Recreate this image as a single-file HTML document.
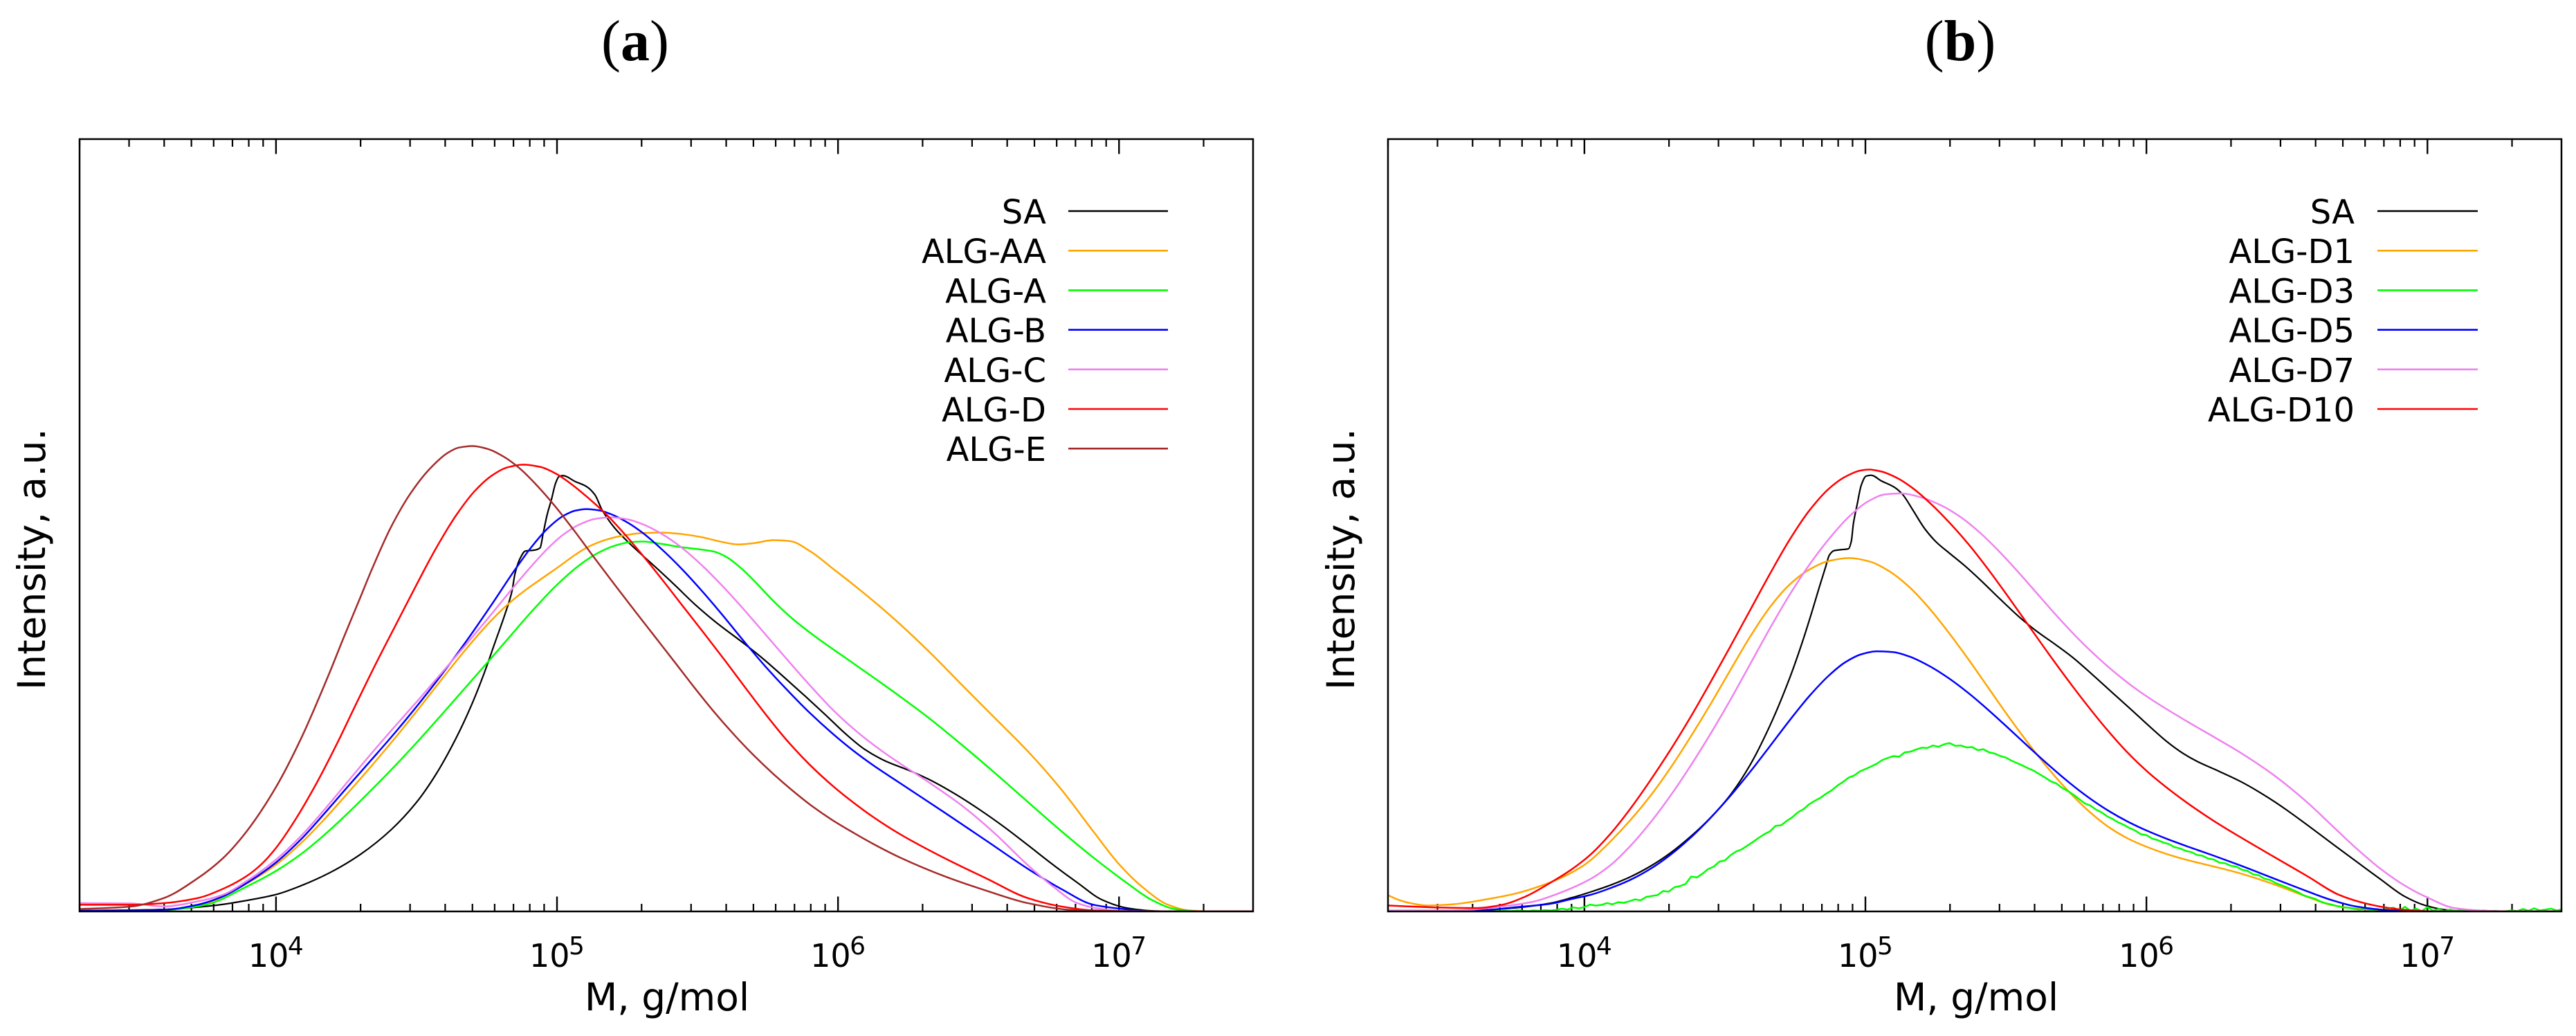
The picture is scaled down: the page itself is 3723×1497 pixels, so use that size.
<!DOCTYPE html>
<html lang="en">
<head>
<meta charset="utf-8">
<title>Molecular weight distributions</title>
<style>
  html,body{margin:0;padding:0;background:#fff;}
  svg{display:block;}
  text{font-family:"DejaVu Sans",sans-serif;fill:#000;}
  .panel-title{font-family:"Liberation Serif",serif;font-size:84px;}
</style>
</head>
<body>
<svg id="chart" xmlns="http://www.w3.org/2000/svg" width="3723" height="1497" viewBox="0 0 3723 1497">
  <rect x="0" y="0" width="3723" height="1497" fill="#fff"/>
  <text class="panel-title" x="918" y="87" text-anchor="middle">(<tspan font-weight="bold">a</tspan>)</text>
  <text class="panel-title" x="2833" y="87" text-anchor="middle">(<tspan font-weight="bold">b</tspan>)</text>
</svg>
<script>
// ---- Shared axis data ----
const decadeExponents = [4, 5, 6, 7];
const minorMultipliers = [2, 3, 4, 5, 6, 7, 8, 9];
const xDomainLog = [3.301, 7.477];
const xTitle = "M, g/mol";
const yTitle = "Intensity, a.u.";

// ---- Panel (a) series: log10(M) and intensity (a.u.) ----
const aNames = ["SA", "ALG-AA", "ALG-A", "ALG-B", "ALG-C", "ALG-D", "ALG-E"];
const aMaxIntensity = 2332;

const aSaLogM = [3.30,3.60,3.78,3.895,4.00,4.09,4.19,4.30,4.41,4.50,4.57,4.64,4.695,4.74,4.78,4.815,4.84,4.85,4.87,4.887,4.92,4.94,4.95,4.965,4.98,4.995,5.007,5.02,5.065,5.105,5.135,5.16,5.205,5.25,5.305,5.36,5.42,5.49,5.56,5.67,5.73,5.80,5.885,5.955,6.025,6.095,6.165,6.25,6.325,6.413,6.50,6.589,6.676,6.764,6.852,6.94,7.03,7.116,7.2,7.477];
const aSaValues = [2,6,18,33,51,73,113,163,238,318,408,513,618,708,818,898,968,1018,1068,1088,1091,1098,1138,1198,1243,1293,1313,1316,1298,1283,1258,1213,1158,1118,1073,1033,988,923,873,808,768,713,648,598,533,483,448,432,400,360,310,260,200,140,85,35,10,2,0,0];

const aAaLogM = [3.30,3.60,3.75,3.895,4.00,4.09,4.17,4.255,4.34,4.425,4.51,4.595,4.68,4.75,4.82,4.88,4.95,5.005,5.065,5.105,5.165,5.235,5.305,5.375,5.445,5.515,5.585,5.645,5.70,5.77,5.83,5.90,5.985,6.07,6.155,6.22,6.325,6.442,6.56,6.676,6.794,6.91,7.0,7.086,7.175,7.25,7.35,7.477];
const aAaValues = [2,5,25,75,133,203,273,358,438,523,613,708,798,868,928,968,1008,1038,1078,1103,1123,1138,1145,1146,1142,1130,1116,1108,1112,1121,1118,1088,1033,978,918,868,790,680,580,490,380,240,130,60,20,3,0,0];

const aALogM = [3.30,3.60,3.75,3.895,4.00,4.09,4.17,4.255,4.34,4.425,4.51,4.595,4.68,4.75,4.82,4.91,4.995,5.08,5.15,5.205,5.26,5.305,5.36,5.445,5.50,5.56,5.60,5.66,5.715,5.77,5.84,5.925,6.025,6.125,6.22,6.325,6.442,6.56,6.676,6.794,6.91,7.03,7.116,7.20,7.29,7.477];
const aAValues = [2,4,20,70,118,168,228,293,368,438,518,598,683,748,818,908,988,1053,1088,1108,1118,1120,1113,1096,1095,1091,1078,1038,988,933,878,823,768,708,648,590,500,420,330,240,160,80,35,7,0,0];

const aBLogM = [3.30,3.60,3.72,3.81,3.895,4.00,4.09,4.17,4.255,4.34,4.425,4.51,4.595,4.68,4.765,4.85,4.91,4.965,5.02,5.065,5.105,5.15,5.19,5.25,5.305,5.375,5.445,5.515,5.585,5.67,5.74,5.815,5.90,5.985,6.055,6.125,6.22,6.384,6.53,6.676,6.794,6.91,7.03,7.116,7.477];
const aBValues = [2,5,20,45,80,138,213,293,378,458,538,628,718,818,918,1038,1103,1163,1200,1214,1218,1214,1203,1178,1148,1093,1038,968,903,808,738,673,593,533,483,438,390,295,215,125,60,20,6,0,0];

const aCLogM = [3.30,3.485,3.60,3.72,3.81,3.895,4.00,4.09,4.17,4.255,4.34,4.425,4.51,4.595,4.68,4.765,4.85,4.91,4.965,5.02,5.08,5.135,5.19,5.25,5.305,5.375,5.445,5.515,5.585,5.655,5.73,5.815,5.90,5.985,6.07,6.155,6.22,6.325,6.442,6.56,6.676,6.764,6.852,6.94,7.03,7.477];
const aCValues = [25,24,15,30,50,85,148,223,303,393,478,563,638,728,808,893,988,1043,1098,1143,1173,1190,1194,1188,1173,1143,1103,1048,988,923,848,763,683,598,538,483,446,390,325,245,130,70,25,7,1,0];

const aDLogM = [3.30,3.485,3.60,3.72,3.81,3.895,3.95,4.00,4.07,4.145,4.215,4.285,4.355,4.43,4.50,4.57,4.64,4.71,4.77,4.825,4.88,4.94,4.995,5.05,5.105,5.18,5.235,5.305,5.375,5.445,5.53,5.60,5.67,5.745,5.815,5.90,5.985,6.055,6.125,6.22,6.384,6.53,6.676,6.794,6.91,7.057,7.477];
const aDValues = [20,20,25,40,60,100,140,183,273,383,498,628,753,868,988,1103,1203,1283,1323,1348,1355,1348,1328,1293,1253,1203,1143,1078,1003,923,833,758,673,593,513,438,373,328,283,228,155,100,40,15,3,0,0];

const aELogM = [3.30,3.485,3.60,3.72,3.81,3.895,4.00,4.09,4.19,4.24,4.30,4.34,4.41,4.48,4.55,4.61,4.65,4.70,4.75,4.81,4.87,4.92,4.99,5.06,5.13,5.205,5.275,5.35,5.42,5.49,5.56,5.63,5.70,5.77,5.84,5.91,5.98,6.055,6.125,6.22,6.384,6.53,6.676,6.823,6.94,7.477];
const aEValues = [7,15,40,90,150,230,358,513,708,838,938,1038,1178,1273,1348,1390,1406,1410,1403,1378,1343,1293,1233,1153,1068,988,908,828,753,673,598,533,468,413,363,313,273,238,203,158,100,60,25,5,1,0];

// ---- Panel (b) series: log10(M) and intensity (a.u.) ----
const bNames = ["SA", "ALG-D1", "ALG-D3", "ALG-D5", "ALG-D7", "ALG-D10"];
const bMaxIntensity = 2500;

const bSaLogM = [3.30,3.62,3.76,3.88,3.953,4.023,4.094,4.165,4.235,4.306,4.377,4.447,4.518,4.589,4.66,4.73,4.773,4.808,4.836,4.858,4.872,4.889,4.914,4.94,4.95,4.957,4.971,4.985,5.002,5.02,5.056,5.105,5.133,5.169,5.211,5.254,5.296,5.353,5.409,5.48,5.55,5.607,5.678,5.735,5.805,5.876,5.947,6.017,6.074,6.13,6.187,6.24,6.336,6.453,6.57,6.658,6.746,6.833,6.92,6.994,7.067,7.155,7.477];
const bSaValues = [1,4,12,27,44,62,84,109,144,184,239,299,364,460,590,745,860,965,1050,1114,1154,1168,1171,1174,1199,1254,1319,1379,1409,1412,1394,1372,1349,1299,1239,1194,1159,1124,1074,1009,949,904,864,829,769,709,654,594,544,509,479,462,427,363,283,219,165,101,48,19,5,0,0];

const bD1LogM = [3.30,3.34,3.38,3.44,3.53,3.65,3.76,3.85,3.94,4.0,4.023,4.094,4.165,4.235,4.306,4.377,4.447,4.518,4.589,4.66,4.73,4.80,4.872,4.942,5.013,5.084,5.155,5.225,5.296,5.367,5.437,5.508,5.579,5.65,5.72,5.79,5.862,5.933,6.003,6.074,6.145,6.24,6.336,6.453,6.57,6.658,6.746,6.863,7.0,7.477];
const bD1Values = [53,37,27,19,23,39,59,80,112,150,164,224,294,369,459,564,664,779,894,994,1069,1114,1142,1152,1142,1109,1059,989,904,819,724,629,544,459,389,324,269,232,207,184,164,146,126,91,48,21,9,2,0,0];

// ALG-D3 is a noisy trace sampled every 0.02 decades from log10(M) = 3.30
const bD3LogStart = 3.30;
const bD3LogStep = 0.02;
const bD3Values = [1,0,1,1,0,1,1,0,1,0,1,1,0,1,1,2,1,0,1,2,1,2,1,3,2,1,3,2,4,3,5,9,6,13,10,14,22,19,21,27,23,30,28,33,39,36,47,50,53,66,64,78,82,89,113,110,122,137,145,161,165,182,194,201,213,225,238,250,259,277,279,293,305,321,331,347,358,368,381,392,407,419,433,440,453,461,469,478,490,497,503,501,515,517,524,530,529,537,533,541,545,536,537,531,532,522,525,515,511,503,498,488,480,472,463,455,444,433,421,414,400,390,378,364,350,343,330,321,308,299,288,280,270,262,250,247,236,231,223,218,208,204,196,192,183,180,171,168,158,156,148,145,135,131,120,117,106,102,92,85,78,70,62,52,46,41,32,26,22,17,13,12,8,6,9,4,7,3,10,12,3,15,2,9,1,14,3,8,1,6,2,5,1,4,1,3,1,2,0,1,3,1,8,2,10,3,6,9,3,7];

const bD5LogM = [3.30,3.62,3.76,3.88,3.953,4.023,4.094,4.165,4.235,4.306,4.377,4.447,4.518,4.589,4.66,4.73,4.80,4.872,4.928,4.985,5.04,5.098,5.155,5.225,5.296,5.367,5.437,5.508,5.579,5.65,5.72,5.79,5.862,5.933,6.003,6.074,6.145,6.24,6.336,6.453,6.57,6.658,6.746,6.863,7.0,7.477];
const bD5Values = [1,3,14,25,40,54,74,99,134,179,234,299,369,449,534,619,704,769,814,839,846,844,831,799,759,709,654,594,534,474,419,369,324,289,259,234,209,182,149,107,64,37,16,4,0,0];

const bD7LogM = [3.30,3.53,3.705,3.82,3.91,4.023,4.094,4.165,4.235,4.306,4.377,4.447,4.518,4.589,4.66,4.73,4.80,4.872,4.942,5.013,5.07,5.126,5.197,5.268,5.338,5.409,5.48,5.55,5.62,5.692,5.763,5.834,5.904,5.975,6.045,6.145,6.24,6.336,6.453,6.57,6.658,6.746,6.833,6.92,7.0,7.096,7.213,7.33,7.477];
const bD7Values = [3,3,16,32,59,94,144,209,284,369,469,569,679,799,919,1029,1129,1209,1289,1339,1356,1359,1346,1319,1284,1229,1164,1094,1019,944,874,814,759,709,669,614,564,517,448,363,277,203,133,75,45,11,2,0,0];

const bD10LogM = [3.30,3.47,3.62,3.705,3.79,3.88,3.953,4.023,4.094,4.165,4.235,4.306,4.377,4.447,4.518,4.589,4.66,4.73,4.80,4.872,4.928,4.985,5.013,5.056,5.112,5.169,5.225,5.296,5.367,5.437,5.508,5.579,5.65,5.72,5.79,5.862,5.933,6.003,6.074,6.145,6.24,6.336,6.453,6.57,6.687,6.775,6.863,6.95,7.04,7.477];
const bD10Values = [19,13,11,21,48,90,134,174,249,329,424,519,624,739,854,974,1094,1209,1309,1379,1414,1431,1433,1429,1409,1374,1329,1264,1194,1109,1019,929,834,749,664,584,509,449,399,349,289,240,176,117,53,27,11,3,0,0];

const bD3LogM = bD3Values.map(function (v, i) { return bD3LogStart + i * bD3LogStep; });

const seriesColors = ["#000000", "#ffa500", "#00ff00", "#0000ff", "#ee82ee", "#ff0000", "#a52a2a"];

// Features kept unsmoothed, as log10(M) limits: SA shoulder and peak, ALG-AA second maximum
const saSharpRange = [4.78, 5.28];
const aaShoulderRange = [5.5, 5.95];
const tailValueLimit = 60;

const panels = [
  {
    id: "a", left: 115, right: 1811, top: 201, bottom: 1317, maxI: aMaxIntensity,
    names: aNames,
    xs: [aSaLogM, aAaLogM, aALogM, aBLogM, aCLogM, aDLogM, aELogM],
    ys: [aSaValues, aAaValues, aAValues, aBValues, aCValues, aDValues, aEValues],
    keep: [saSharpRange, aaShoulderRange, null, null, null, null, null],
    noisy: [],
    legendTextX: 1512, legendLine: [1544, 1688], yTitleX: 65, xTitleX: 964
  },
  {
    id: "b", left: 2006, right: 3702, top: 201, bottom: 1317, maxI: bMaxIntensity,
    names: bNames,
    xs: [bSaLogM, bD1LogM, bD3LogM, bD5LogM, bD7LogM, bD10LogM],
    ys: [bSaValues, bD1Values, bD3Values, bD5Values, bD7Values, bD10Values],
    keep: [saSharpRange, null, null, null, null, null],
    noisy: [2],
    legendTextX: 3403, legendLine: [3436, 3581], yTitleX: 1957, xTitleX: 2856
  }
];

const svgNS = "http://www.w3.org/2000/svg";
const root = document.getElementById("chart");

function make(tag, parent) {
  const el = document.createElementNS(svgNS, tag);
  parent.appendChild(el);
  return el;
}

function line(parent, x1, y1, x2, y2, width, color) {
  const el = make("line", parent);
  el.setAttribute("x1", x1);
  el.setAttribute("y1", y1);
  el.setAttribute("x2", x2);
  el.setAttribute("y2", y2);
  el.setAttribute("stroke", color);
  el.setAttribute("stroke-width", width);
  return el;
}

// Relaxes each knot toward the chord of its neighbours to remove reading jitter.
// Baseline tails and named features stay as read.
function relax(logM, values, keepRange) {
  let out = values.slice();
  for (let pass = 0; pass < 2; pass++) {
    const next = out.slice();
    for (let i = 1; i < out.length - 1; i++) {
      if (values[i] < tailValueLimit) continue;
      if (keepRange && logM[i] > keepRange[0] && logM[i] < keepRange[1]) continue;
      const t = (logM[i] - logM[i - 1]) / (logM[i + 1] - logM[i - 1]);
      const chord = out[i - 1] + t * (out[i + 1] - out[i - 1]);
      next[i] = out[i] + 0.4 * (chord - out[i]);
    }
    out = next;
  }
  return out;
}

// Monotone cubic path through the points (no overshoot at the baseline)
function monotonePath(px, py) {
  const n = px.length;
  const slopes = [];
  for (let i = 0; i < n - 1; i++) {
    slopes.push((py[i + 1] - py[i]) / (px[i + 1] - px[i]));
  }
  const tan = [slopes[0]];
  for (let i = 1; i < n - 1; i++) {
    if (slopes[i - 1] * slopes[i] <= 0) {
      tan.push(0);
    } else {
      const h0 = px[i] - px[i - 1];
      const h1 = px[i + 1] - px[i];
      const w1 = 2 * h1 + h0;
      const w2 = h1 + 2 * h0;
      tan.push((w1 + w2) / (w1 / slopes[i - 1] + w2 / slopes[i]));
    }
  }
  tan.push(slopes[n - 2]);
  let d = "M" + px[0].toFixed(2) + " " + py[0].toFixed(2);
  for (let i = 0; i < n - 1; i++) {
    const h = (px[i + 1] - px[i]) / 3;
    d += "C" + (px[i] + h).toFixed(2) + " " + (py[i] + tan[i] * h).toFixed(2) + " " +
      (px[i + 1] - h).toFixed(2) + " " + (py[i + 1] - tan[i + 1] * h).toFixed(2) + " " +
      px[i + 1].toFixed(2) + " " + py[i + 1].toFixed(2);
  }
  return d;
}

function straightPath(px, py) {
  let d = "";
  for (let i = 0; i < px.length; i++) {
    d += (i === 0 ? "M" : "L") + px[i].toFixed(2) + " " + py[i].toFixed(2);
  }
  return d;
}

panels.forEach(function (p) {
  const xScale = function (logM) {
    return p.left + (logM - xDomainLog[0]) / (xDomainLog[1] - xDomainLog[0]) * (p.right - p.left);
  };
  const yScale = function (value) {
    return p.bottom - value / p.maxI * (p.bottom - p.top);
  };

  const group = make("g", root);
  
  

  // Clip region
  const defs = make("defs", group);
  const clip = make("clipPath", defs);
  clip.setAttribute("id", "clip-" + p.id);
  const clipRect = make("rect", clip);
  clipRect.setAttribute("x", p.left);
  clipRect.setAttribute("y", p.top);
  clipRect.setAttribute("width", p.right - p.left);
  clipRect.setAttribute("height", p.bottom - p.top);

  // Ticks
  const ticks = make("g", group);
  
  
  for (let k = 3; k <= 7; k++) {
    const major = Math.pow(10, k);
    if (decadeExponents.indexOf(k) >= 0) {
      const xm = xScale(Math.log10(major));
      line(ticks, xm, p.bottom, xm, p.bottom - 21.5, 2.4, "#000");
      line(ticks, xm, p.top, xm, p.top + 21.5, 2.4, "#000");
    }
    minorMultipliers.forEach(function (mult) {
      const lg = Math.log10(mult * major);
      if (lg < xDomainLog[0] || lg > xDomainLog[1]) return;
      const xt = xScale(lg);
      line(ticks, xt, p.bottom, xt, p.bottom - 11, 2.2, "#000");
      line(ticks, xt, p.top, xt, p.top + 11, 2.2, "#000");
    });
  }

  // Series lines
  const lines = make("g", group);
  lines.setAttribute("clip-path", "url(#clip-" + p.id + ")");
  
  
  p.names.forEach(function (name, s) {
    const isNoisy = p.noisy.indexOf(s) >= 0;
    const values = isNoisy ? p.ys[s] : relax(p.xs[s], p.ys[s], p.keep[s]);
    const px = p.xs[s].map(xScale);
    const py = values.map(yScale);
    const path = make("path", lines);
    
    
    path.setAttribute("d", isNoisy ? straightPath(px, py) : monotonePath(px, py));
    path.setAttribute("fill", "none");
    path.setAttribute("stroke", seriesColors[s]);
    path.setAttribute("stroke-width", s === 0 ? 2.2 : 2.5);
    path.setAttribute("stroke-linejoin", "round");
  });

  // Frame
  const frame = make("rect", group);
  
  
  frame.setAttribute("x", p.left);
  frame.setAttribute("y", p.top);
  frame.setAttribute("width", p.right - p.left);
  frame.setAttribute("height", p.bottom - p.top);
  frame.setAttribute("fill", "none");
  frame.setAttribute("stroke", "#000");
  frame.setAttribute("stroke-width", 2.5);

  // Tick labels
  decadeExponents.forEach(function (exp) {
    const cx = xScale(exp);
    const label = make("text", group);
    
    
    label.setAttribute("x", cx - 40);
    label.setAttribute("y", 1397);
    label.setAttribute("font-size", "46");
    label.textContent = "10";
    const sup = make("text", group);
    
    
    sup.setAttribute("x", cx + 17);
    sup.setAttribute("y", 1379);
    sup.setAttribute("font-size", "36");
    sup.textContent = String(exp);
  });

  // Axis titles
  const xt = make("text", group);
  
  
  xt.setAttribute("x", p.xTitleX);
  xt.setAttribute("y", 1460);
  xt.setAttribute("font-size", "55");
  xt.setAttribute("text-anchor", "middle");
  xt.textContent = xTitle;

  const yt = make("text", group);
  
  
  yt.setAttribute("transform", "translate(" + p.yTitleX + " 808) rotate(-90)");
  yt.setAttribute("font-size", "55");
  yt.setAttribute("text-anchor", "middle");
  yt.textContent = yTitle;

  // Legend
  const legend = make("g", group);
  
  
  p.names.forEach(function (name, s) {
    const rowY = 305 + s * 57.2;
    const entry = make("g", legend);
    
    
    const t = make("text", entry);
    t.setAttribute("x", p.legendTextX);
    t.setAttribute("y", rowY + 18);
    t.setAttribute("font-size", "48");
    t.setAttribute("text-anchor", "end");
    t.textContent = name;
    line(entry, p.legendLine[0], rowY, p.legendLine[1], rowY, 2.6, seriesColors[s]);
  });
});
</script>
</body>
</html>
